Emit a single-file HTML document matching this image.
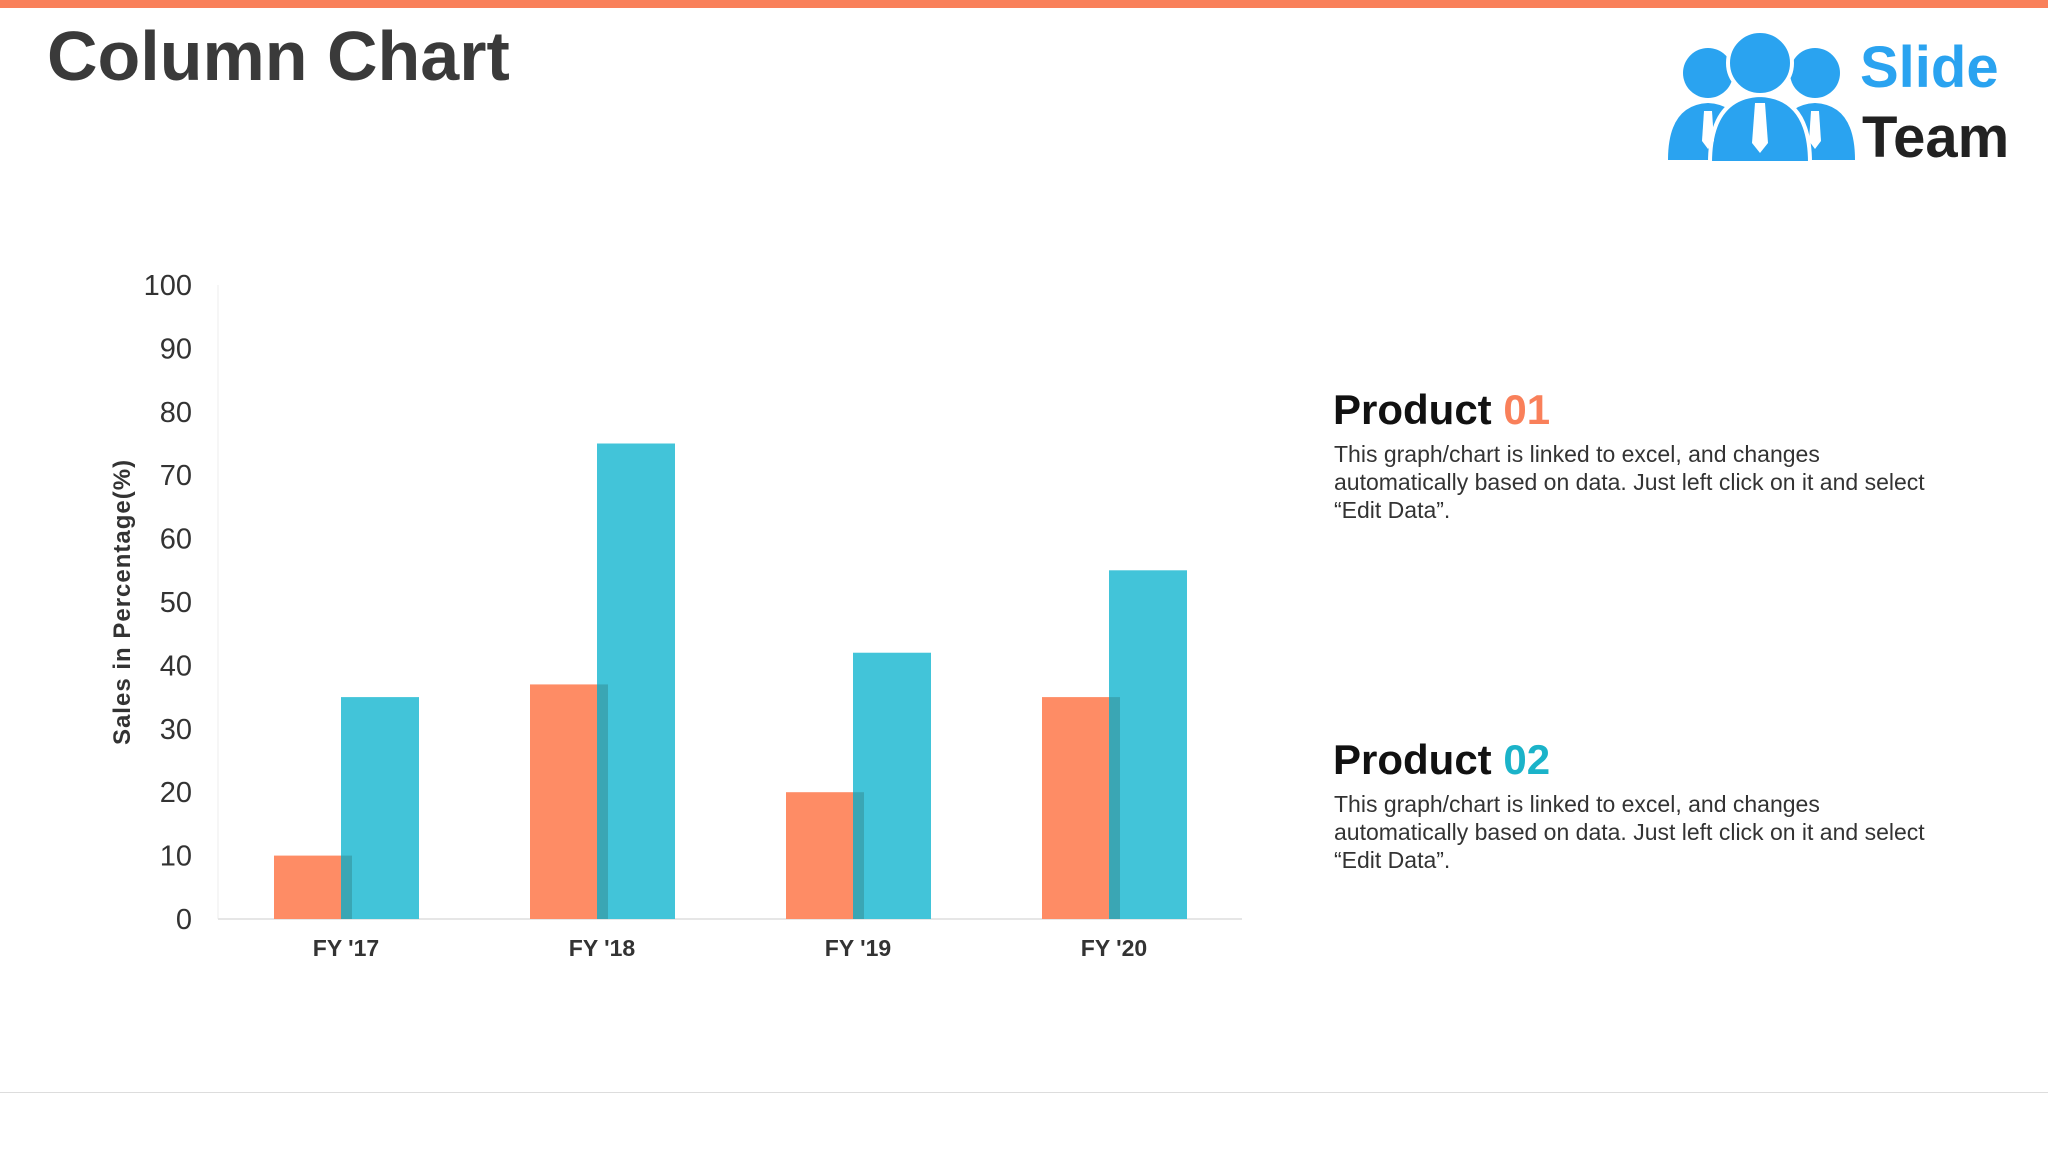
<!DOCTYPE html>
<html><head><meta charset="utf-8"><style>
body{margin:0;width:2048px;height:1152px;background:#fff;font-family:"Liberation Sans",sans-serif;overflow:hidden;position:relative}
.abs{position:absolute}
</style></head><body>
<div class="abs" style="left:0;top:0;width:2048px;height:8px;background:#f9805a"></div>
<div class="abs" style="left:47px;top:16px;font-size:70px;font-weight:bold;color:#3a3a3a;letter-spacing:0px">Column Chart</div>
<svg class="abs" style="left:1660px;top:25px" width="360" height="145" viewBox="0 0 360 145">
 <g fill="#2aa3f0">
  <circle cx="48" cy="48" r="25"/><circle cx="155" cy="48" r="25"/>
  <path d="M8 135 Q8 80 48 78 Q88 80 88 135Z"/><path d="M115 135 Q115 80 155 78 Q195 80 195 135Z"/>
  <circle cx="100" cy="38" r="32" stroke="#fff" stroke-width="4"/>
  <path d="M50 138 Q50 72 100 70 Q150 72 150 138Z" stroke="#fff" stroke-width="4"/>
 </g>
 <g fill="#fff"><path d="M95 78h10l3 40-8 10-8-10z"/><path d="M44 86h8l2 30-6 8-6-8z"/><path d="M151 86h8l2 30-6 8-6-8z"/></g>
 <text x="200" y="62" font-size="58" font-weight="bold" fill="#2aa3f0" font-family="Liberation Sans,sans-serif">Slide</text>
 <text x="202" y="132" font-size="58" font-weight="bold" fill="#222" font-family="Liberation Sans,sans-serif">Team</text>
</svg>
<svg id="chart" class="abs" style="left:0;top:0" width="1300" height="1000"></svg>
<div class="abs" style="left:1333px;top:386px;font-size:42px;font-weight:bold;color:#111">Product <span style="color:#f9805a">01</span></div>
<div class="abs" style="left:1334px;top:440px;font-size:23px;line-height:28px;color:#333;width:612px">This graph/chart is linked to excel, and changes automatically based on data. Just left click on it and select “Edit Data”.</div>
<div class="abs" style="left:1333px;top:736px;font-size:42px;font-weight:bold;color:#111">Product <span style="color:#1bb3c9">02</span></div>
<div class="abs" style="left:1334px;top:790px;font-size:23px;line-height:28px;color:#333;width:612px">This graph/chart is linked to excel, and changes automatically based on data. Just left click on it and select “Edit Data”.</div>
<div class="abs" style="left:0;top:1092px;width:2048px;height:1px;background:#ddd"></div>
<script>
const categories=["FY '17","FY '18","FY '19","FY '20"];
const product1=[10,37,20,35];
const product2=[35,75,42,55];
const yTicks=[0,10,20,30,40,50,60,70,80,90,100];
const NS="http://www.w3.org/2000/svg";
const svg=document.getElementById('chart');
const y0=919,y100=285,xL=218,xR=1242;
const y=v=>y0-(v/100)*(y0-y100);
const xc=i=>346+i*256;
function mk(t,a){const e=document.createElementNS(NS,t);for(const k in a)e.setAttribute(k,a[k]);svg.appendChild(e);return e;}
const ax=mk('line',{x1:xL,x2:xL,y1:y100,y2:y0,stroke:'#eee','stroke-width':1});


const bx=mk('line',{x1:xL,x2:xR,y1:y0,y2:y0,stroke:'#e6e6e6','stroke-width':2});


yTicks.forEach(v=>{const t=mk('text',{x:192,y:y(v)+10,'text-anchor':'end','font-size':29,fill:'#333','font-family':'Liberation Sans,sans-serif'});t.textContent=v;

});
const yt=mk('text',{x:0,y:0,transform:'translate(130,602) rotate(-90)','text-anchor':'middle','font-size':24,'font-weight':'bold',fill:'#333','font-family':'Liberation Sans,sans-serif','letter-spacing':'1'});yt.textContent='Sales in Percentage(%)';


categories.forEach((c,i)=>{
 const o=mk('rect',{x:xc(i)-72,y:y(product1[i]),width:78,height:y0-y(product1[i]),fill:'#fe8c65'});
 
 
 const b=mk('rect',{x:xc(i)-5,y:y(product2[i]),width:78,height:y0-y(product2[i]),fill:'#42c4d9'});
 
 
 const h=Math.min(product1[i],product2[i]);
 const s=mk('rect',{x:xc(i)-5,y:y(h),width:11,height:y0-y(h),fill:'#3aa6b4'});
 
 
 const t=mk('text',{x:xc(i),y:956,'text-anchor':'middle','font-size':23,'font-weight':'bold',fill:'#333','font-family':'Liberation Sans,sans-serif'});t.textContent=c;
 
 
});
</script>
</body></html>
